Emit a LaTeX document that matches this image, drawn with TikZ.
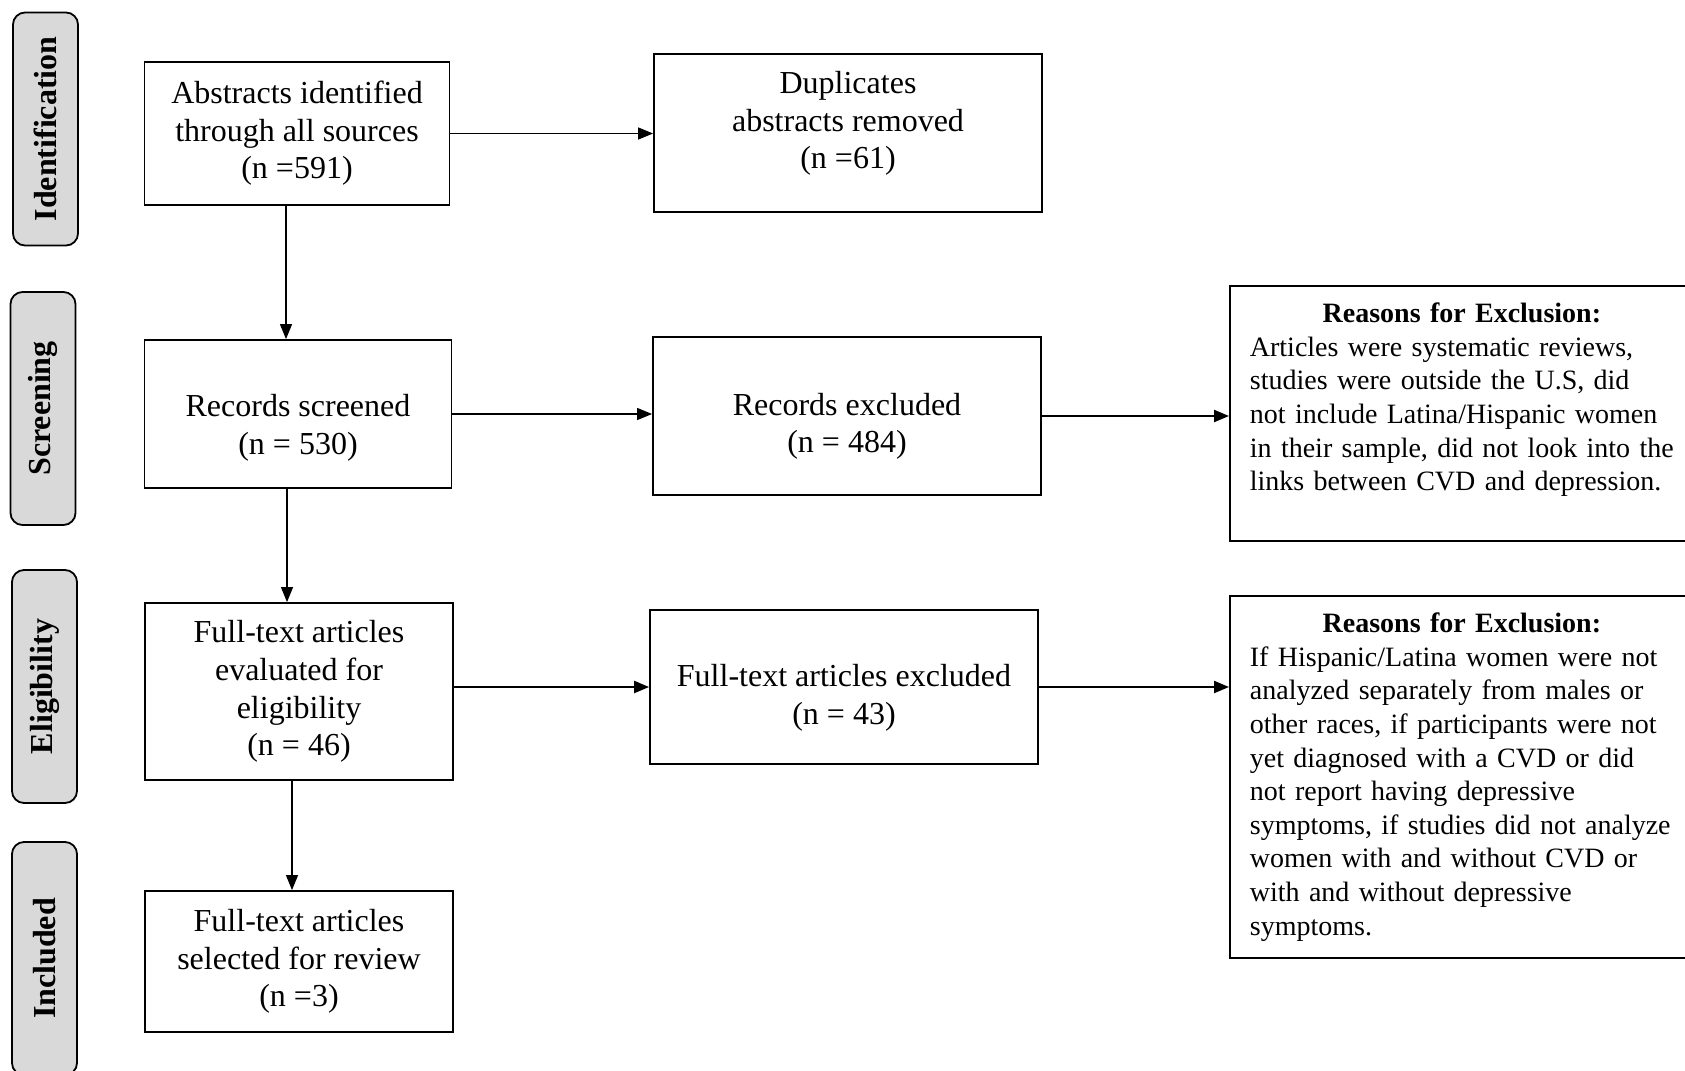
\documentclass[tikz,border=0pt]{standalone}
\usepackage{fontspec}
\setmainfont{Liberation Serif}
\usetikzlibrary{arrows.meta}

\tikzset{
  box/.style={draw, line width=0.9pt, align=center, inner sep=0pt,
    font=\fontsize{16}{18.8}\selectfont},
  stage/.style={draw, line width=0.9pt, rounded corners=6pt, fill=gray!30,
    rotate=90, minimum width=116.5pt, minimum height=32.5pt, inner sep=0pt,
    font=\fontsize{16}{18.8}\selectfont\bfseries},
  reason/.style={draw, line width=0.9pt, anchor=north west, text width=240pt,
    inner xsep=10pt, inner ysep=8.5pt,
    font=\fontsize{14}{16.8}\selectfont},
  flow/.style={-{Triangle[length=7.5pt,width=6pt]}, line width=0.6pt},
  flowthick/.style={-{Triangle[length=7.5pt,width=6pt]}, line width=1.1pt},
}

\begin{document}
\begin{tikzpicture}[x=0.5pt,y=-0.5pt]
      \clip (0,0) rectangle (1685,1070);

      % stage tabs
      \node[stage] (ident) at (45.5,129){Identification};
      \node[stage] (screen) at (43,408.5){Screening};
      \node[stage] (elig) at (44.5,686.5){Eligibility};
      \node[stage] (incl) at (44.5,958.5){Included};

      % main column
      \node[box, minimum width=152.5pt, minimum height=71.5pt] (abs) at (297,133.5){Abstracts identified\\through all sources\\(n =591)};
      \node[box, minimum width=153.5pt, minimum height=74pt] (scr) at (298,414){\rule{0pt}{25pt}Records screened\\(n = 530)};
      \node[box, minimum width=154pt, minimum height=88.5pt] (full) at (299,691.5){Full-text articles\\evaluated for\\eligibility\\(n = 46)};
      \node[box, minimum width=154pt, minimum height=70.5pt] (sel) at (299,961.5){Full-text articles\\selected for review\\(n =3)};

      % excluded column
      \node[box, minimum width=194pt, minimum height=79pt] (dup) at (848,133){Duplicates\\abstracts removed\\(n =61)\rule[-13pt]{0pt}{13pt}};
      \node[box, minimum width=194pt, minimum height=79pt] (recex) at (847,416){\rule{0pt}{21.6pt}Records excluded\\(n = 484)};
      \node[box, minimum width=194pt, minimum height=77pt] (fullex) at (844,687){\rule{0pt}{22pt}Full-text articles excluded\\(n = 43)};

      % reasons
      \node[reason] (why1) at (1229,285){\makebox[212pt]{\bfseries Reasons for Exclusion:}\\
        Articles were systematic reviews,\\
        studies were outside the U.S, did\\
        not include Latina/Hispanic women\\
        in their sample, did not look into the\\
        links between CVD and depression.\\
        \mbox{}};
      \node[reason] (why2) at (1229,595){\makebox[212pt]{\bfseries Reasons for Exclusion:}\\
        If Hispanic/Latina women were not\\
        analyzed separately from males or\\
        other races, if participants were not\\
        yet diagnosed with a CVD or did\\
        not report having depressive\\
        symptoms, if studies did not analyze\\
        women with and without CVD or\\
        with and without depressive\\
        symptoms.};

      \coordinate (absdown) at ([xshift=-5.5pt]abs.south);
      \coordinate (scrdown) at ([xshift=-5.5pt]scr.south);
      \coordinate (fulldown) at ([xshift=-3.5pt]full.south);

      \draw[flow] (abs.east) -- (abs.east -| dup.west);
      \draw[flow] (absdown) -- (absdown |- scr.north);
      \draw[flow] (scr.east) -- (scr.east -| recex.west);
      \draw[flowthick] (recex.east) -- (recex.east -| why1.west);
      \draw[flow] (scrdown) -- (scrdown |- full.north);
      \draw[flowthick] (full.east |- fullex.west) -- (fullex.west);
      \draw[flowthick] (fullex.east) -- (fullex.east -| why2.west);
      \draw[flow] (fulldown) -- (fulldown |- sel.north);
\end{tikzpicture}
\end{document}
